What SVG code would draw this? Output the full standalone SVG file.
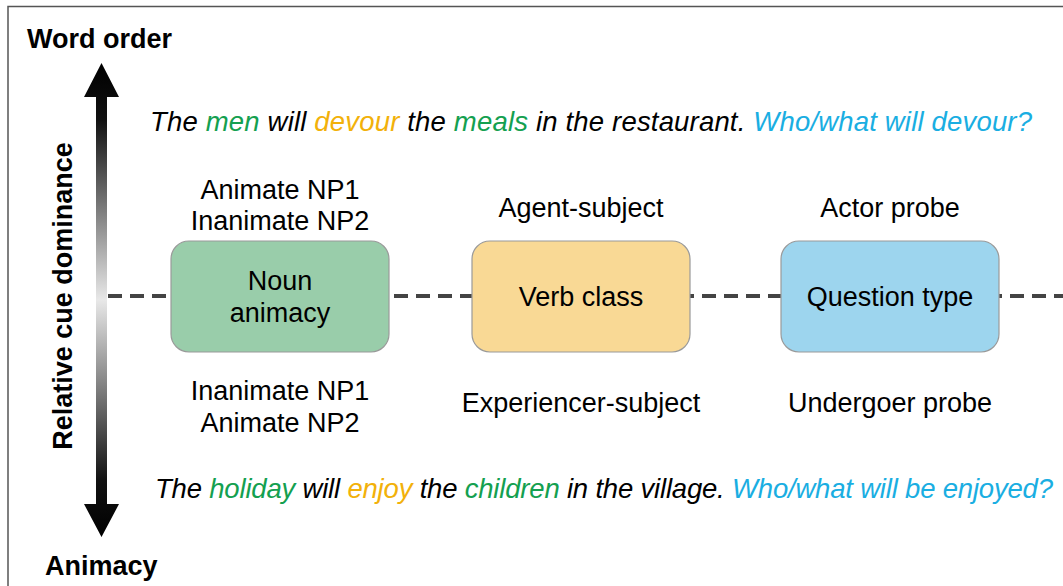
<svg xmlns="http://www.w3.org/2000/svg" width="1063" height="586" viewBox="0 0 1063 586">
<defs>
<linearGradient id="ag" x1="0" y1="63" x2="0" y2="537" gradientUnits="userSpaceOnUse">
<stop offset="0" stop-color="#000"/>
<stop offset="0.12" stop-color="#111"/>
<stop offset="0.5" stop-color="#e8e8e8"/>
<stop offset="0.88" stop-color="#111"/>
<stop offset="1" stop-color="#000"/>
</linearGradient>
<style>
text{font-family:"Liberation Sans",Arial,sans-serif;font-size:27px;fill:#000}
.b{font-weight:bold}
.i{font-style:italic;font-size:27.5px}
.c{text-anchor:middle}
.g{fill:#14a050}
.o{fill:#f2b10a}
.u{fill:#1aaee2}
.box{stroke:#9a9a9a;stroke-width:1.2}
</style>
</defs>
<rect width="1063" height="586" fill="#fff"/>
<path d="M8 586 V6.5 H1063" fill="none" stroke="#555" stroke-width="1.5"/>
<text class="b" x="27" y="48">Word order</text>
<text class="b" x="45" y="575">Animacy</text>
<text class="b c" transform="translate(72 296) rotate(-90)">Relative cue dominance</text>
<path d="M101.5 63 L119 97 H107 V504 H119 L101.5 537 L84 504 H96 V97 H84 Z" fill="url(#ag)"/>
<g id="connectors">
<line x1="108" y1="296" x2="1063" y2="296" stroke="#444" stroke-width="4" stroke-dasharray="14 8"/>
</g>
<g id="noun">
<rect class="box" x="171" y="241" width="218" height="111" rx="18" fill="#99cdaa"/>
<text class="c" x="280" y="290">Noun</text>
<text class="c" x="280" y="322">animacy</text>
</g>
<g id="verb">
<rect class="box" x="472" y="241" width="218" height="111" rx="18" fill="#f9d995"/>
<text class="c" x="581" y="306">Verb class</text>
</g>
<g id="question">
<rect class="box" x="781" y="241" width="218" height="111" rx="18" fill="#9dd5ee"/>
<text class="c" x="890" y="306">Question type</text>
</g>
<g id="labels">
<text class="c" x="280" y="199">Animate NP1</text>
<text class="c" x="280" y="230">Inanimate NP2</text>
<text class="c" x="581" y="217">Agent-subject</text>
<text class="c" x="890" y="217">Actor probe</text>
<text class="c" x="280" y="400">Inanimate NP1</text>
<text class="c" x="280" y="432">Animate NP2</text>
<text class="c" x="581" y="412">Experiencer-subject</text>
<text class="c" x="890" y="412">Undergoer probe</text>
</g>
<g id="sentences">
<text class="i" x="150" y="131" textLength="882" lengthAdjust="spacing">The <tspan class="g">men</tspan> will <tspan class="o">devour</tspan> the <tspan class="g">meals</tspan> in the restaurant. <tspan class="u">Who/what will devour?</tspan></text>
<text class="i" x="155" y="498" textLength="898" lengthAdjust="spacing">The <tspan class="g">holiday</tspan> will <tspan class="o">enjoy</tspan> the <tspan class="g">children</tspan> in the village. <tspan class="u">Who/what will be enjoyed?</tspan></text>
</g>
</svg>
